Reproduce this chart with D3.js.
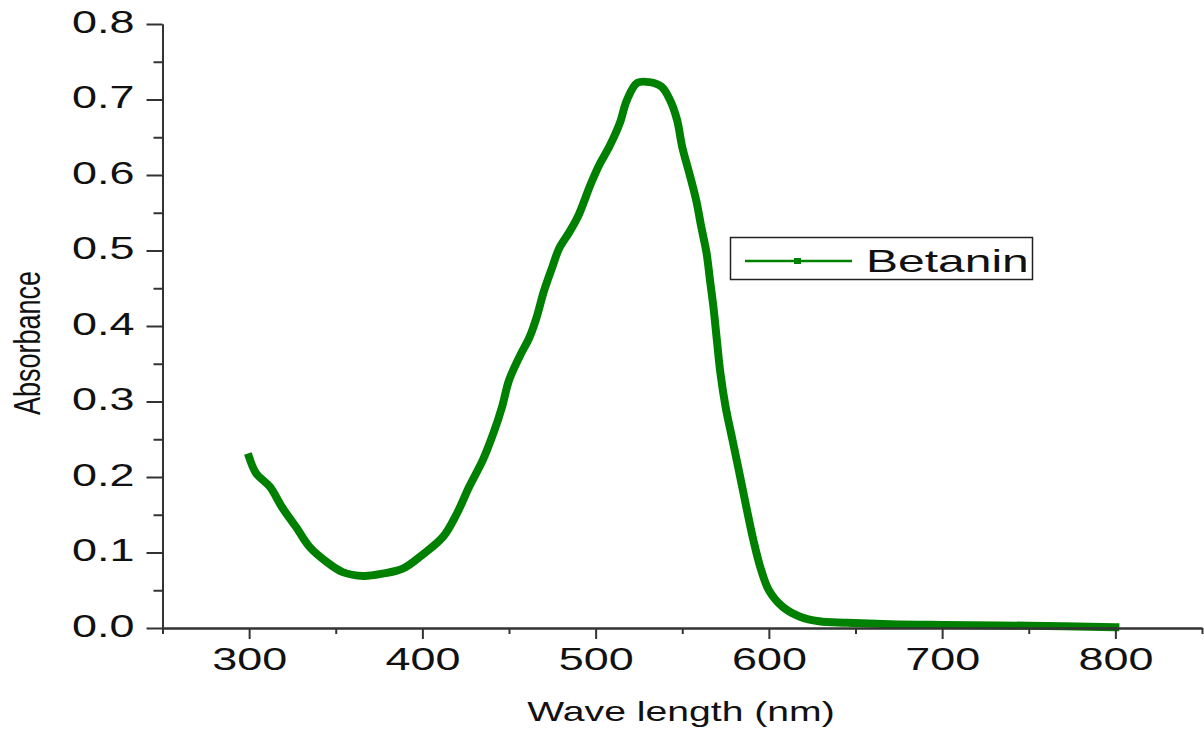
<!DOCTYPE html>
<html>
<head>
<meta charset="utf-8">
<script src="https://cdn.jsdelivr.net/npm/d3@7"></script>
<style>
  html, body { margin: 0; padding: 0; background: #fff; }
  svg { display: block; }
  text { font-family: "Liberation Sans", Arial, sans-serif; fill: #111; }
</style>
</head>
<body>
<svg id="chart" width="1204" height="731"></svg>
<script>
// ---- data ----
const wavelength = [300, 304, 312, 319, 327, 335, 345, 354, 366, 377, 389, 400, 412, 420, 427, 435, 441, 446, 450, 456, 462, 466, 470, 475, 479, 485, 490, 497, 502, 508, 514, 518, 524, 531, 538, 543, 547, 550, 554, 558, 561, 564, 566, 568, 570, 572, 575, 579, 583, 587, 591, 595, 600, 608, 618, 629, 645, 670, 700, 750, 800];
const absorbance = [0.226, 0.205, 0.187, 0.160, 0.134, 0.107, 0.087, 0.074, 0.069, 0.072, 0.079, 0.097, 0.121, 0.152, 0.187, 0.223, 0.258, 0.293, 0.328, 0.359, 0.386, 0.412, 0.445, 0.478, 0.503, 0.525, 0.546, 0.587, 0.613, 0.638, 0.669, 0.699, 0.722, 0.723, 0.717, 0.699, 0.673, 0.637, 0.603, 0.567, 0.531, 0.497, 0.461, 0.425, 0.381, 0.338, 0.293, 0.249, 0.205, 0.160, 0.117, 0.081, 0.050, 0.028, 0.015, 0.009, 0.007, 0.005, 0.004, 0.003, 0.001];
const seriesName = "Betanin";
const xMajorTicks = [300, 400, 500, 600, 700, 800];
const xMinorTicks = [250, 350, 450, 550, 650, 750, 850];
const yMajorTicks = [0.0, 0.1, 0.2, 0.3, 0.4, 0.5, 0.6, 0.7, 0.8];
const yMinorTicks = [0.05, 0.15, 0.25, 0.35, 0.45, 0.55, 0.65, 0.75];
const xTitle = "Wave length (nm)";
const yTitle = "Absorbance";

(function draw() {
  const svg = d3.select("#chart");
  const plotLeft = 162.5, plotRight = 1202, plotTop = 24, plotBottom = 628;
  const stretch = 1.45; // reference text is horizontally stretched
  const green = "#008000";
  const axisColor = "#333";

  const x = d3.scaleLinear().domain([250, 850]).range([plotLeft, plotRight]);
  const y = d3.scaleLinear().domain([0, 0.8]).range([plotBottom, plotTop]);

  // ---- curve ----
  const data = wavelength.map((w, i) => ({ w, a: absorbance[i] }));
  svg.append("path")
    .datum(data)
    .attr("fill", "none")
    .attr("stroke", green)
    .attr("stroke-width", 8)
    .attr("stroke-linejoin", "round")
    .attr("stroke-linecap", "square")
    .attr("d", d3.line().x(d => x(d.w)).y(d => y(d.a)).curve(d3.curveCatmullRom));

  function styleAxis(g) {
    g.selectAll("path, line").attr("stroke", axisColor).attr("stroke-width", 2);
  }

  // x minor
  svg.append("g").attr("transform", `translate(0,${plotBottom})`)
    .call(d3.axisBottom(x).tickValues(xMinorTicks).tickSize(6).tickSizeOuter(0).tickFormat(""))
    .call(styleAxis)
    .call(g => g.selectAll("text").remove());
  // x major
  const gx = svg.append("g").attr("transform", `translate(0,${plotBottom})`)
    .call(d3.axisBottom(x).tickValues(xMajorTicks).tickSize(11).tickSizeOuter(0).tickFormat(d3.format("d")))
    .call(styleAxis);
  gx.selectAll("text")
    .attr("y", null).attr("dy", null)
    .attr("transform", `translate(0,42) scale(${stretch},1)`)
    .attr("font-size", 31)
    .attr("font-family", "Liberation Sans, Arial, sans-serif")
    .attr("fill", "#111");

  // y minor
  svg.append("g").attr("transform", `translate(${plotLeft},0)`)
    .call(d3.axisLeft(y).tickValues(yMinorTicks).tickSize(9).tickSizeOuter(0).tickFormat(""))
    .call(styleAxis)
    .call(g => g.selectAll("text").remove());
  // y major
  const gy = svg.append("g").attr("transform", `translate(${plotLeft},0)`)
    .call(d3.axisLeft(y).tickValues(yMajorTicks).tickSize(16).tickSizeOuter(0).tickFormat(d3.format(".1f")))
    .call(styleAxis);
  gy.selectAll("text")
    .attr("x", null).attr("dy", null)
    .attr("transform", `translate(-28,8) scale(${stretch},1)`)
    .attr("font-size", 31)
    .attr("font-family", "Liberation Sans, Arial, sans-serif")
    .attr("fill", "#111");

  // ---- axis titles ----
  svg.append("text")
    .attr("transform", `translate(681,721) scale(1.45,1)`)
    .attr("text-anchor", "middle")
    .attr("font-size", 27)
    .text(xTitle);

  svg.append("text")
    .attr("transform", `translate(40,343) scale(1.35,1) rotate(-90)`)
    .attr("text-anchor", "middle")
    .attr("font-size", 27)
    .text(yTitle);

  // ---- legend ----
  const lg = svg.append("g");
  lg.append("rect")
    .attr("x", 730.5).attr("y", 237.5).attr("width", 302).attr("height", 42)
    .attr("fill", "#fff").attr("stroke", "#222").attr("stroke-width", 1.5);
  lg.append("line")
    .attr("x1", 745).attr("x2", 852).attr("y1", 261).attr("y2", 261)
    .attr("stroke", green).attr("stroke-width", 2.5);
  lg.append("rect")
    .attr("x", 794).attr("y", 258).attr("width", 7).attr("height", 6)
    .attr("fill", green);
  lg.append("text")
    .attr("transform", `translate(866,272) scale(1.5,1)`)
    .attr("font-size", 32)
    .text(seriesName);
})();
</script>
</body>
</html>
